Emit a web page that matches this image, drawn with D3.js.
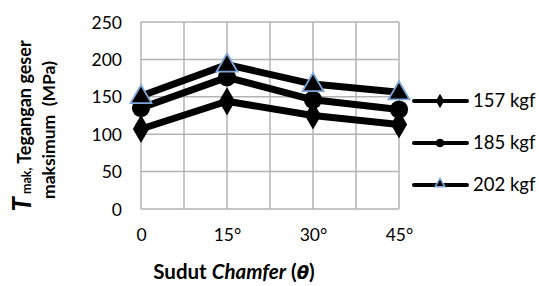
<!DOCTYPE html>
<html><head><meta charset="utf-8">
<script src="https://cdn.jsdelivr.net/npm/d3@7"></script>
<style>body{margin:0;background:#fff}svg{display:block}text{font-family:Lato,"Open Sans",sans-serif;fill:#000}</style>
</head><body>
<script>
const categories = ["0", "15°", "30°", "45°"];
const seriesNames = ["157 kgf", "185 kgf", "202 kgf"];
const s157 = [107, 144, 125, 113];
const s185 = [135, 176, 146, 133];
const s202 = [151, 193, 167, 156];
const yTicks = [0, 50, 100, 150, 200, 250];

const W = 539, H = 286;
const svg = d3.select("body").append("svg").attr("width", W).attr("height", H);
const x = d3.scaleLinear().domain([0, 3]).range([141, 399]);
const y = d3.scaleLinear().domain([0, 250]).range([209, 22]);
const grid = "#b3b3b3";

// gridlines
svg.append("g").selectAll("line").data(yTicks).join("line")
  .attr("x1", 141).attr("x2", 399).attr("y1", d => y(d)).attr("y2", d => y(d))
  .attr("stroke", grid).attr("stroke-width", 1.5);
svg.append("g").selectAll("line").data(d3.range(0, 3.01, 0.5)).join("line")
  .attr("x1", d => x(d)).attr("x2", d => x(d)).attr("y1", y(0)).attr("y2", y(250))
  .attr("stroke", grid).attr("stroke-width", 1.5);

// y axis labels
const ya = svg.append("g").attr("transform", "translate(122,0)")
  .call(d3.axisLeft(y).tickValues(yTicks).tickSize(0).tickPadding(0));
ya.select(".domain").remove();
ya.selectAll("text").attr("font-size", 17.5).attr("font-family", "Lato").attr("dy", "0.35em");

// x axis labels
const xa = svg.append("g").attr("transform", "translate(0,235)")
  .call(d3.axisBottom(x).tickValues([0,1,2,3]).tickFormat(i => categories[i]).tickSize(0).tickPadding(0));
xa.select(".domain").remove();
xa.selectAll("text").attr("font-size", 17.5).attr("font-family", "Lato").attr("dy", "0.35em").attr("y", 0);

const data = [s157, s185, s202];
const line = d3.line().x((d, i) => x(i)).y(d => y(d));
data.forEach(s => {
  svg.append("path").datum(s).attr("d", line).attr("fill", "none")
    .attr("stroke", "#000").attr("stroke-width", 7).attr("stroke-linejoin", "round");
});
const sym = [d3.symbolDiamond, d3.symbolCircle, d3.symbolTriangle];
const symSize = [230, 260, 190];
data.forEach((s, k) => {
  svg.append("g").selectAll("path").data(s).join("path")
    .attr("transform", (d, i) => `translate(${x(i)},${y(d) + (k === 2 ? 1 : 0)})`)
    .attr("d", d3.symbol(sym[k], symSize[k]))
    .attr("fill", "#000")
    .attr("stroke", k === 2 ? "#7ea6db" : "none").attr("stroke-width", 1.8);
});

// legend
const legY = [101, 143, 185];
const leg = svg.append("g");
seriesNames.forEach((n, k) => {
  const g = leg.append("g").attr("transform", `translate(0,${legY[k]})`);
  g.append("line").attr("x1", 414).attr("x2", 467).attr("y1", 0).attr("y2", 0)
    .attr("stroke", "#000").attr("stroke-width", 4).attr("stroke-linecap", "round");
  g.append("path").attr("transform", `translate(440,${k === 2 ? -1 : 0})`)
    .attr("d", d3.symbol(sym[k], [60, 60, 40][k]))
    .attr("fill", "#000").attr("stroke", k === 2 ? "#7ea6db" : "none").attr("stroke-width", 1.5);
  g.append("text").attr("x", 473).attr("y", 0).attr("dy", "0.35em")
    .attr("font-size", 18.5).text(n);
});

// x title
const xt = svg.append("text").attr("x", 234).attr("y", 272).attr("dy", "0.35em")
  .attr("text-anchor", "middle").attr("font-size", 20.5).attr("font-weight", "bold");
xt.append("tspan").text("Sudut ");
xt.append("tspan").attr("font-style", "italic").text("Chamfer");
xt.append("tspan").text(" (");
xt.append("tspan").attr("font-style", "italic").attr("font-family", "DejaVu Sans").attr("font-size", 18).text("θ");
xt.append("tspan").text(")");

// y title
const yt = svg.append("g").attr("transform", "translate(0,126) rotate(-90)");
const t1 = yt.append("text").attr("x", 0).attr("y", 31).attr("text-anchor", "middle")
  .attr("font-weight", "bold").attr("font-size", 18);
t1.append("tspan").attr("font-style", "italic").attr("font-size", 26).text("T");
t1.append("tspan").attr("font-size", 12.5).text(" mak,");
t1.append("tspan").text(" Tegangan geser");
yt.append("text").attr("x", -4).attr("y", 55).attr("text-anchor", "middle")
  .attr("font-weight", "bold").attr("font-size", 17.5).attr("xml:space", "preserve").text("maksimum  (MPa)");
</script>
</body></html>
